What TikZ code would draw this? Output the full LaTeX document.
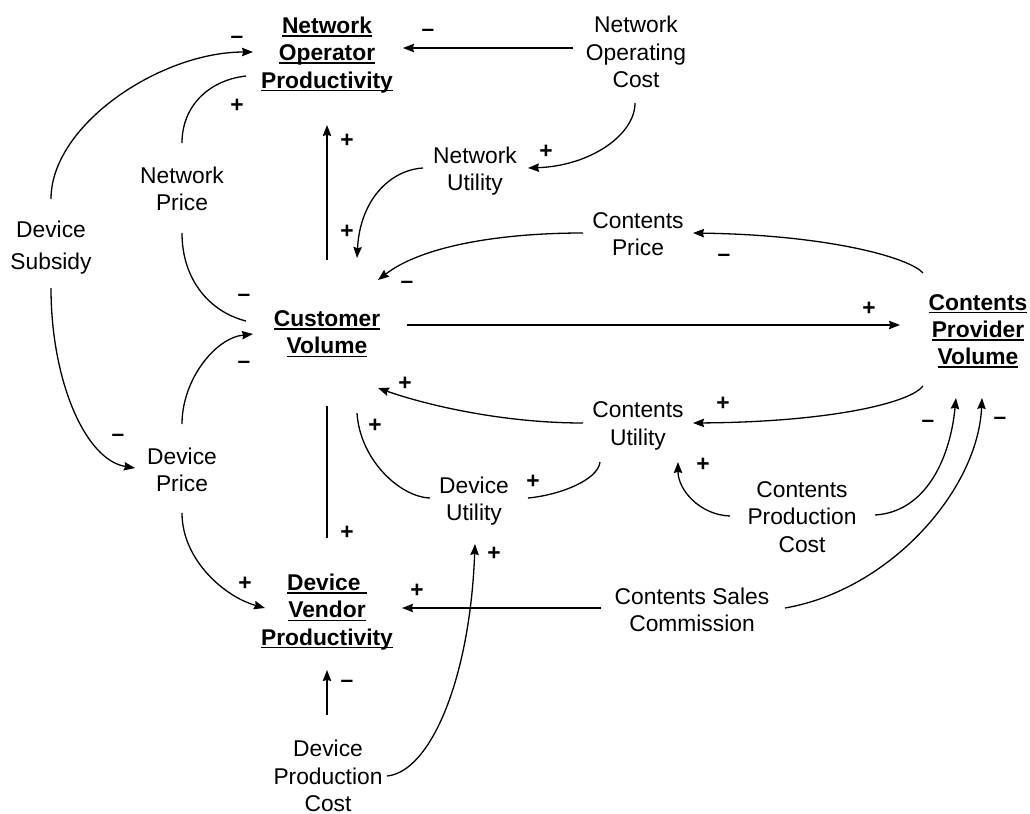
\documentclass[tikz,border=0pt]{standalone}
\usepackage{fontspec}
\setmainfont{Liberation Sans}
\usetikzlibrary{arrows.meta,calc}
% underline drawn just below the baseline, through descenders
\newsavebox\ulsbox
\newcommand\ulword[1]{\sbox\ulsbox{#1}\rlap{\rule[-1.6pt]{\wd\ulsbox}{0.8pt}}\usebox\ulsbox}

\begin{document}
\begin{tikzpicture}[x=0.5pt,y=-0.5pt,
  var/.style={inner sep=0pt, align=center, font=\fontsize{11.4}{13.6}\selectfont},
  stock/.style={var, font=\fontsize{11.4}{13.6}\selectfont\bfseries},
  sgn/.style={inner sep=0pt, anchor=base, font=\fontsize{11.4}{13.6}\selectfont\bfseries},
  plussign/.style={sgn, yshift=-3.9pt},
  minussign/.style={sgn, yshift=-2.9pt},
  link/.style={line width=0.65pt},
  arr/.style={link, -{Stealth[length=5.5pt,width=4.2pt,inset=0.6pt]}},
]
\useasboundingbox (0,0) rectangle (1030,814);

% variables
\node[stock] (NOP) at (327,55)  {\ulword{Network}\\\ulword{Operator}\\\ulword{Productivity}};
\node[var]   (NOC) at (636,52)  {Network\\Operating\\Cost};
\node[var]   (NU)  at (475,171) {Network\\Utility};
\node[var]   (NP)  at (182,189) {Network\\Price};
\node[var]   (DS)  at (51,248)  {Device\\[2.5pt]Subsidy};
\node[var]   (CP)  at (638,234) {Contents\\Price};
\node[stock] (CV)  at (327,334) {\ulword{Customer}\\\ulword{Volume}};
\node[stock] (CPV) at (978,331) {\ulword{Contents}\\\ulword{Provider}\\\ulword{Volume}};
\node[var]   (CU)  at (638,426) {Contents\\Utility};
\node[var]   (DP)  at (182,470) {Device\\Price};
\node[var]   (DU)  at (474,501) {Device\\Utility};
\node[var]   (CPC) at (802,517) {Contents\\Production\\Cost};
\node[var]   (CSC) at (692,610) {Contents Sales\\Commission};
\node[stock] (DVP) at (327,612) {\ulword{Device\ }\\\ulword{Vendor}\\\ulword{Productivity}};
\node[var]   (DPC) at (328,776) {Device\\Production\\Cost};

% causal links
\draw[arr] ($(NOC)+(-63,-4)$) -- ($(NOP)+(76,-7)$);
\draw[arr] ($(DS)+(0,-49)$) .. controls +(0,-74) and +(-93,0) .. ($(NOP)+(-74,-3)$);
\draw[link] ($(NP)+(0,-46)$) .. controls +(0,-38) and +(-36,4) .. ($(NOP)+(-81,21)$);
\draw[arr] ($(CV)+(0,-74)$) -- ($(NOP)+(0,70)$);
\draw[arr] ($(NOC)+(-1,51)$) .. controls +(0,32) and +(62,-2) .. ($(NU)+(53,-3)$);
\draw[arr] ($(NU)+(-52,-3)$) .. controls +(-33,2) and +(3,-58) .. ($(CV)+(30,-76)$);
\draw[arr] ($(CP)+(-55,-1)$) .. controls +(-83,0) and +(44,-34) .. ($(CV)+(51,-54)$);
\draw[arr] ($(CPV)+(-55,-58)$) .. controls +(-13,-15) and +(137,2) .. ($(CP)+(55,-1)$);
\draw[arr] ($(CV)+(80,-9)$) -- ($(CPV)+(-78,-6)$);
\draw[arr] ($(CPV)+(-55,55)$) .. controls +(-13,17) and +(137,-1) .. ($(CU)+(55,-3)$);
\draw[arr] ($(CU)+(-55,-3)$) .. controls +(-83,0) and +(45,16) .. ($(CV)+(51,54)$);
\draw[link] ($(DU)+(-44,-3)$) .. controls +(-30,-1) and +(3,47) .. ($(CV)+(30,79)$);
\draw[link] ($(CU)+(-38,36)$) .. controls +(-2,18) and +(32,-3) .. ($(DU)+(54,-3)$);
\draw[link] ($(CV)+(0,72)$) -- ($(DVP)+(0,-74)$);
\draw[arr] ($(DP)+(0,-46)$) .. controls +(0,-44) and +(-38,4) .. ($(CV)+(-74,0)$);
\draw[link] ($(NP)+(0,44)$) .. controls +(0,47) and +(-36,-9) .. ($(CV)+(-81,-13)$);
\draw[arr] ($(DS)+(0,40)$) .. controls +(0,92) and +(-50,-8) .. ($(DP)+(-47,-2)$);
\draw[arr] ($(DP)+(0,43)$) .. controls +(0,47) and +(-40,-11) .. ($(DVP)+(-62,-4)$);
\draw[arr] ($(CSC)+(-91,-2)$) -- ($(DVP)+(75,-4)$);
\draw[arr] ($(DPC)+(-1,-61)$) -- ($(DVP)+(0,58)$);
\draw[arr] ($(DPC)+(59,0)$) .. controls +(43,-4) and +(-5,136) .. ($(DU)+(1,43)$);
\draw[arr] ($(CPC)+(-72,-1)$) .. controls +(-30,-1) and +(0,28) .. ($(CU)+(40,36)$);
\draw[arr] ($(CPC)+(73,-2)$) .. controls +(50,-3) and +(-6,62) .. ($(CPV)+(-22,67)$);
\draw[arr] ($(CSC)+(93,-2)$) .. controls +(105,-18) and +(-4,92) .. ($(CPV)+(4,67)$);

% polarities
\node[minussign] (s1)  at (428,31)  {–};
\node[minussign] (s2)  at (237,38)  {–};
\node[plussign]  (s3)  at (237,105) {+};
\node[plussign]  (s4)  at (347,140) {+};
\node[plussign]  (s5)  at (546,151) {+};
\node[plussign]  (s6)  at (347,231) {+};
\node[minussign] (s7)  at (407,283) {–};
\node[minussign] (s8)  at (724,256) {–};
\node[plussign]  (s9)  at (869,308) {+};
\node[minussign] (s10) at (244,296) {–};
\node[minussign] (s11) at (244,363) {–};
\node[plussign]  (s12) at (405,383) {+};
\node[plussign]  (s13) at (723,403) {+};
\node[plussign]  (s14) at (375,425) {+};
\node[minussign] (s15) at (118,436) {–};
\node[plussign]  (s16) at (703,464) {+};
\node[plussign]  (s17) at (533,481) {+};
\node[plussign]  (s18) at (347,532) {+};
\node[plussign]  (s19) at (494,553) {+};
\node[plussign]  (s20) at (245,583) {+};
\node[plussign]  (s21) at (417,590) {+};
\node[minussign] (s22) at (347,682) {–};
\node[minussign] (s23) at (928,422) {–};
\node[minussign] (s24) at (1000,419) {–};
\end{tikzpicture}
\end{document}
